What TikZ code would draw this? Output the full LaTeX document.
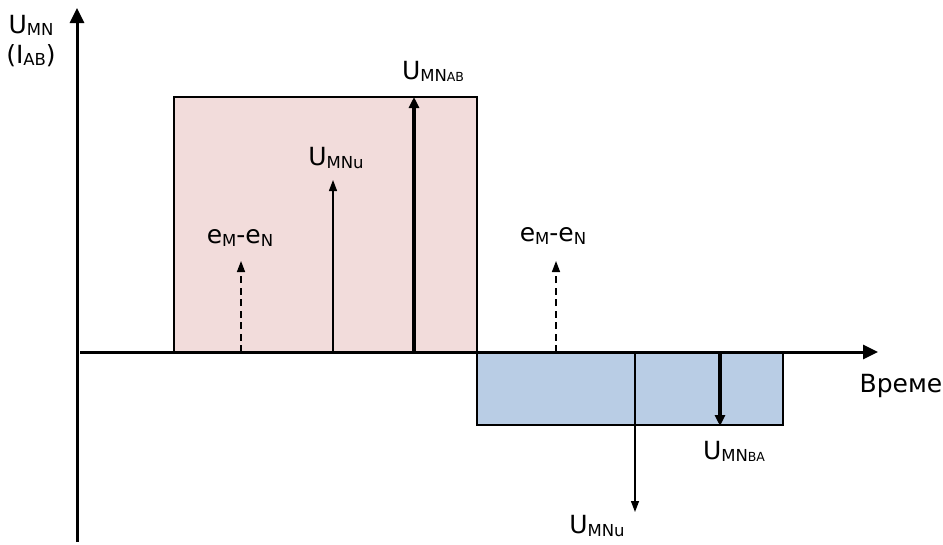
\documentclass[tikz,border=0pt]{standalone}
\usepackage{fontspec}
\setmainfont{DejaVu Sans}
\usetikzlibrary{arrows.meta}
\definecolor{pinkfill}{HTML}{F2DCDB}
\definecolor{bluefill}{HTML}{B9CDE5}
\newcommand\sbx[1]{\raisebox{-0.15ex}{\fontsize{16.5}{16.5}\selectfont #1}}
\newcommand\ssbx[1]{\raisebox{-0.15ex}{\fontsize{12.5}{12.5}\selectfont #1}}
\begin{document}
\begin{tikzpicture}[x=1pt,y=-1pt,
  lbl/.style={font=\fontsize{25}{28}\selectfont, inner sep=0pt},
  axisline/.style={line width=3pt,-{Triangle[length=15pt,width=14pt]}},
  thinarrow/.style={line width=1.3pt,-{Triangle[length=11pt,width=8pt]}},
  thickarrow/.style={line width=3.2pt,-{Triangle[length=11pt,width=10pt]}},
  dasharrow/.style={line width=1.4pt,dash pattern=on 7pt off 4.5pt,-{Triangle[length=11pt,width=8pt]}}]
\useasboundingbox (0,0) rectangle (943,544);
% rectangles
\draw[fill=pinkfill,line width=1.8pt] (174,352) rectangle (477,97);
\draw[fill=bluefill,line width=1.8pt] (477,352) rectangle (783,425);
% axes
\coordinate (yb) at (77,542);
\coordinate (yt) at (77,8);
\coordinate (xl) at (80,352);
\coordinate (xr) at (878,352);
\draw[axisline] (yb) -- (yt);
\draw[axisline] (xl) -- (xr);
% arrows
\coordinate (a1) at (241,352); \coordinate (a1t) at (241,261);
\coordinate (a2) at (333,352); \coordinate (a2t) at (333,180);
\coordinate (a3) at (414,352); \coordinate (a3t) at (414,97);
\coordinate (a4) at (556,352); \coordinate (a4t) at (556,261);
\coordinate (a5) at (635,352); \coordinate (a5t) at (635,512);
\coordinate (a6) at (720,352); \coordinate (a6t) at (720,426);
\draw[dasharrow] (a1) -- (a1t);
\draw[thinarrow] (a2) -- (a2t);
\draw[thickarrow] (a3) -- (a3t);
\draw[dasharrow] (a4) -- (a4t);
\draw[thinarrow] (a5) -- (a5t);
\draw[thickarrow] (a6) -- (a6t);
% labels
\node[lbl] (ly1) at (31,25) {U\sbx{MN}};
\node[lbl] (ly2) at (31,56) {(I\sbx{AB})};
\node[lbl] (l3) at (433,71) {U\sbx{MN}\ssbx{AB}};
\node[lbl] (l2) at (336,158) {U\sbx{MNu}};
\node[lbl] (l1) at (240,238) {e\sbx{M}-e\sbx{N}};
\node[lbl] (l4) at (553,236) {e\sbx{M}-e\sbx{N}};
\node[lbl] (lx) at (901,386) {Време};
\node[lbl] (l6) at (734,451) {U\sbx{MN}\ssbx{BA}};
\node[lbl] (l5) at (597,526) {U\sbx{MNu}};
\end{tikzpicture}
\end{document}
